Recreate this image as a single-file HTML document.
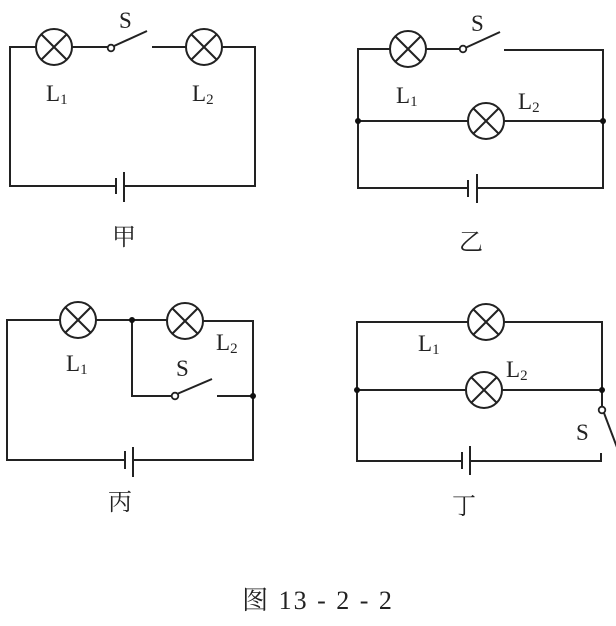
<!DOCTYPE html>
<html><head><meta charset="utf-8"><style>body{margin:0;background:#fff}svg{display:block}</style></head><body>
<svg width="616" height="626" viewBox="0 0 616 626" xmlns="http://www.w3.org/2000/svg">
<defs>
<g id="lamp"><circle cx="0" cy="0" r="18" fill="#fff" stroke="#222" stroke-width="2"/><line x1="-12.5" y1="-12.5" x2="12.5" y2="12.5" stroke="#222" stroke-width="2"/><line x1="12.5" y1="-12.5" x2="-12.5" y2="12.5" stroke="#222" stroke-width="2"/></g>
</defs>
<g stroke="#222" stroke-width="2" fill="none">
<polyline points="36,47 10,47 10,186 116,186"/>
<line x1="72" y1="47" x2="108" y2="47"/>
<polyline points="152,47 186,47"/>
<polyline points="222,47 255,47 255,186 124,186"/>
<line x1="114" y1="46" x2="147" y2="31"/>
<line x1="116" y1="178" x2="116" y2="194"/><line x1="124" y1="172" x2="124" y2="202"/>
<polyline points="390,49 358,49 358,188 468,188"/>
<line x1="426" y1="49" x2="460" y2="49"/>
<line x1="465" y1="48" x2="500" y2="32"/>
<polyline points="504,50 603,50 603,188 477,188"/>
<line x1="358" y1="121" x2="468" y2="121"/><line x1="504" y1="121" x2="603" y2="121"/>
<line x1="468" y1="180" x2="468" y2="197"/><line x1="477" y1="174" x2="477" y2="203"/>
<polyline points="60,320 7,320 7,460 125,460"/>
<line x1="96" y1="320" x2="167" y2="320"/>
<polyline points="203,321 253,321 253,460 133,460"/>
<polyline points="132,320 132,396 172,396"/>
<line x1="177" y1="394" x2="212" y2="379"/>
<line x1="217" y1="396" x2="253" y2="396"/>
<line x1="125" y1="451" x2="125" y2="469"/><line x1="133" y1="447" x2="133" y2="477"/>
<polyline points="468,322 357,322 357,461 462,461"/>
<polyline points="504,322 602,322 602,390"/>
<line x1="357" y1="390" x2="466" y2="390"/><line x1="502" y1="390" x2="602" y2="390"/>
<line x1="602" y1="390" x2="602" y2="407"/>
<line x1="604" y1="413" x2="618" y2="450"/>
<polyline points="470,461 601,461 601,453"/>
<line x1="462" y1="452" x2="462" y2="469"/><line x1="470" y1="446" x2="470" y2="475"/>
</g>
<use href="#lamp" x="54" y="47"/><use href="#lamp" x="204" y="47"/>
<use href="#lamp" x="408" y="49"/><use href="#lamp" x="486" y="121"/>
<use href="#lamp" x="78" y="320"/><use href="#lamp" x="185" y="321"/>
<use href="#lamp" x="486" y="322"/><use href="#lamp" x="484" y="390"/>
<g fill="#fff" stroke="#222" stroke-width="1.8">
<circle cx="111" cy="48" r="3.3"/><circle cx="463" cy="49" r="3.3"/><circle cx="175" cy="396" r="3.3"/><circle cx="602" cy="410" r="3.3"/>
</g>
<g fill="#111">
<circle cx="358" cy="121" r="3"/><circle cx="603" cy="121" r="3"/><circle cx="132" cy="320" r="3"/><circle cx="253" cy="396" r="3"/><circle cx="357" cy="390" r="3"/><circle cx="602" cy="390" r="3"/>
</g>
<g font-family="Liberation Serif, serif" font-size="23" fill="#222">
<text x="119" y="28">S</text>
<text x="46" y="101">L<tspan font-size="15" dy="3">1</tspan></text>
<text x="192" y="101">L<tspan font-size="15" dy="3">2</tspan></text>
<text x="471" y="31">S</text>
<text x="396" y="103">L<tspan font-size="15" dy="3">1</tspan></text>
<text x="518" y="109">L<tspan font-size="15" dy="3">2</tspan></text>
<text x="66" y="371">L<tspan font-size="15" dy="3">1</tspan></text>
<text x="216" y="350">L<tspan font-size="15" dy="3">2</tspan></text>
<text x="176" y="376">S</text>
<text x="418" y="351">L<tspan font-size="15" dy="3">1</tspan></text>
<text x="506" y="377">L<tspan font-size="15" dy="3">2</tspan></text>
<text x="576" y="440">S</text>
</g>
<g font-family="Liberation Serif, 'Noto Serif CJK SC', serif" font-size="24" fill="#222" text-anchor="middle">
<text x="124" y="245">甲</text>
<text x="471" y="250">乙</text>
<text x="120" y="510">丙</text>
<text x="464" y="514">丁</text>
<text x="318" y="609" font-size="26" letter-spacing="2">图 13 - 2 - 2</text>
</g>
</svg>
</body></html>
